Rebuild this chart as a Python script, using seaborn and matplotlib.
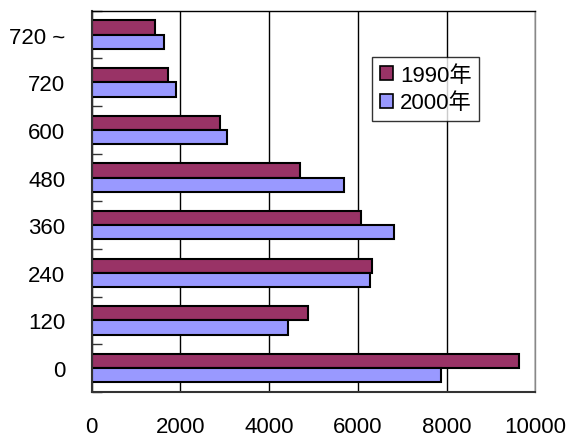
import matplotlib
matplotlib.use("Agg")
import matplotlib.pyplot as plt
import seaborn as sns
import pandas as pd
import numpy as np

categories = ["720 ~", "720", "600", "480", "360", "240", "120", "0"]
v1990 = [1420, 1720, 2890, 4700, 6070, 6330, 4870, 9630]
v2000 = [1630, 1890, 3050, 5690, 6820, 6280, 4430, 7870]
series = ["1990年", "2000年"]
colors = ["#993366", "#9999FF"]
xticks = [0, 2000, 4000, 6000, 8000, 10000]

sns.set_theme(style="white")
plt.rcParams['font.family'] = ['Liberation Sans', 'Noto Sans CJK SC', 'DejaVu Sans']
plt.rcParams['text.color'] = 'black'
plt.rcParams['xtick.color'] = 'black'
plt.rcParams['ytick.color'] = 'black'

df = pd.DataFrame({
    "cat": categories * 2,
    "val": v1990 + v2000,
    "year": [series[0]] * len(categories) + [series[1]] * len(categories),
})

fig = plt.figure(figsize=(5.7, 4.39), dpi=100)
ax = fig.add_axes([0.161, 0.105, 0.778, 0.868])
sns.barplot(data=df, y="cat", x="val", hue="year", order=categories,
            hue_order=series, palette=colors, saturation=1, orient="h", width=0.6,
            edgecolor="black", linewidth=1.5, gap=0, ax=ax, dodge=True)

ax.set_xlim(0, 10000)
ax.set_ylim(len(categories) - 0.5, -0.5)
ax.set_xticks(xticks)
ax.set_xticklabels([str(t) for t in xticks], fontsize=16)
ax.xaxis.grid(True, color="black", linewidth=1)
ax.set_axisbelow(True)
ax.set_xlabel("")
ax.set_ylabel("")
ax.tick_params(axis="x", length=0, pad=17, labelcolor="black")
ax.tick_params(axis="y", which="major", length=0, pad=19, labelsize=16, labelcolor="black")
ax.set_yticks(np.arange(-0.5, len(categories), 1), minor=True)
ax.tick_params(axis="y", which="minor", direction="in", length=7, width=1, color="#333333", left=True)

for s in ["left", "bottom"]:
    ax.spines[s].set_color("#333333")
    ax.spines[s].set_linewidth(1.5)
ax.spines["top"].set_color("black")
ax.spines["top"].set_linewidth(1)
ax.spines["right"].set_color("#888888")
ax.spines["right"].set_linewidth(1)

leg = ax.legend(loc="upper left", bbox_to_anchor=(0.632, 0.879), fontsize=16,
                frameon=True, fancybox=False, edgecolor="black",
                handlelength=0.6, handleheight=0.6, handletextpad=0.3,
                borderpad=0.35, labelspacing=0.3, borderaxespad=0)
leg.get_frame().set_linewidth(1)
for h in leg.legend_handles:
    h.set_edgecolor("black")
    h.set_linewidth(1.2)
for t in leg.get_texts():
    t.set_color("black")

fig.savefig("out.png", dpi=100)
